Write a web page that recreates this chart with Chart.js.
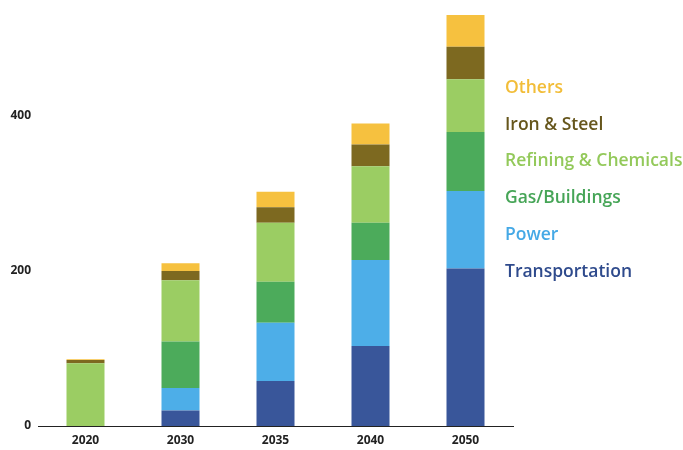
<!DOCTYPE html>
<html>
<head>
<meta charset="utf-8">
<script src="https://cdn.jsdelivr.net/npm/chart.js@4/dist/chart.umd.min.js"></script>
<style>
  html, body { margin: 0; padding: 0; background: #ffffff; }
  #wrap { width: 683px; height: 450px; position: relative; }
</style>
</head>
<body>
<div id="wrap"><canvas id="c" width="683" height="450"></canvas></div>
<script>
const categories = ['2020', '2030', '2035', '2040', '2050'];
const transportation = [0, 20, 58, 103, 203];
const power = [0, 29, 75, 111, 100];
const gasBuildings = [0, 60, 53, 48, 76];
const refiningChemicals = [81, 79, 76, 73, 68];
const ironSteel = [4, 12, 20, 28, 42];
const others = [1, 10, 20, 27, 41];
const yTicks = [0, 200, 400];

const seriesNames = ['Transportation', 'Power', 'Gas/Buildings', 'Refining & Chemicals', 'Iron & Steel', 'Others'];
const seriesValues = [transportation, power, gasBuildings, refiningChemicals, ironSteel, others];
const barColors = ['#39569A', '#4DAEE8', '#4CAB5B', '#9BCD63', '#7D6920', '#F6C13F'];
const textColors = ['#2E4A8C', '#45A9E6', '#46A557', '#93C95A', '#66561C', '#F2BD38'];
const legendY = [272, 235, 198, 161, 125, 88];

const legendPlugin = {
  id: 'sideLegend',
  afterDraw(chart) {
    const ctx = chart.ctx;
    ctx.save();
    ctx.font = '600 17.5px "Open Sans", sans-serif';
    ctx.textBaseline = 'middle';
    ctx.textAlign = 'left';
    chart.data.datasets.forEach((ds, i) => {
      ctx.fillStyle = textColors[i];
      ctx.fillText(ds.label, 505, legendY[i]);
    });
    ctx.restore();
  }
};

new Chart(document.getElementById('c'), {
  type: 'bar',
  data: {
    labels: categories,
    datasets: seriesNames.map((name, i) => ({
      label: name,
      data: seriesValues[i],
      backgroundColor: barColors[i],
      borderWidth: 0,
      barPercentage: 0.4,
      categoryPercentage: 1.0
    }))
  },
  options: {
    responsive: false,
    animation: false,
    layout: { padding: { top: 0, right: 170, left: 0, bottom: 0 } },
    plugins: { legend: { display: false }, tooltip: { enabled: false } },
    scales: {
      x: {
        stacked: true,
        grid: { display: false, drawTicks: false },
        border: { display: true, color: '#222222', width: 1 },
        ticks: { color: '#222222', font: { family: '"Open Sans", sans-serif', size: 12, weight: '700' }, padding: 7 },
        afterFit(scale) { scale.height = 24; }
      },
      y: {
        stacked: true,
        min: 0,
        max: 531,
        grid: { display: false, drawTicks: false },
        border: { display: false },
        afterBuildTicks(scale) { scale.ticks = yTicks.map(v => ({ value: v })); },
        ticks: { color: '#222222', font: { family: '"Open Sans", sans-serif', size: 12, weight: '700' }, padding: 7 },
        afterFit(scale) { scale.width = 38; }
      }
    }
  },
  plugins: [legendPlugin]
});
</script>
</body>
</html>
